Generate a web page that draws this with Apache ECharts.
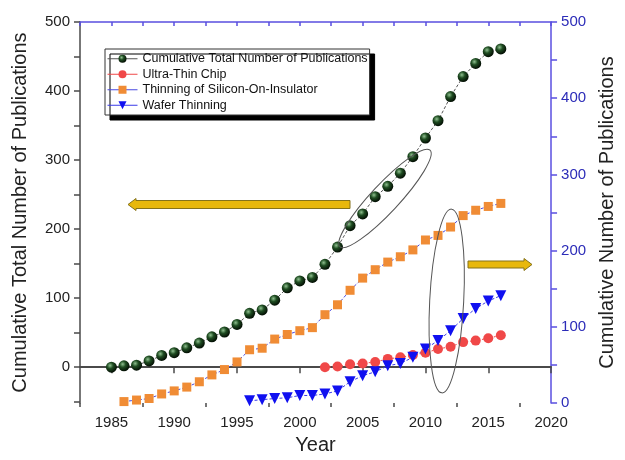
<!DOCTYPE html>
<html>
<head>
<meta charset="utf-8">
<script src="https://cdn.jsdelivr.net/npm/echarts@6/dist/echarts.min.js"></script>
<style>
  html, body { margin: 0; padding: 0; background: #fff; }
  #chart { width: 625px; height: 460px; }
</style>
</head>
<body>
<div id="chart"></div>
<script>
// Publication counts per year
const totalYears = [1985,1986,1987,1988,1989,1990,1991,1992,1993,1994,1995,1996,1997,1998,1999,2000,2001,2002,2003,2004,2005,2006,2007,2008,2009,2010,2011,2012,2013,2014,2015,2016];
const totalCounts = [0,2,3,9,17,21,28,35,44,51,62,78,83,97,115,125,130,149,174,205,222,247,262,281,305,332,357,392,421,440,457,461];

const chipYears = [2002,2003,2004,2005,2006,2007,2008,2009,2010,2011,2012,2013,2014,2015,2016];
const chipCounts = [47,48,51,52,54,58,60,63,66,71,74,80,82,85,89];

const soiYears = [1986,1987,1988,1989,1990,1991,1992,1993,1994,1995,1996,1997,1998,1999,2000,2001,2002,2003,2004,2005,2006,2007,2008,2009,2010,2011,2012,2013,2014,2015,2016];
const soiCounts = [2,4,6,12,16,21,28,37,44,54,70,72,84,90,95,99,116,129,148,164,175,185,192,201,214,220,231,246,253,258,262];

const waferYears = [1996,1997,1998,1999,2000,2001,2002,2003,2004,2005,2006,2007,2008,2009,2010,2011,2012,2013,2014,2015,2016];
const waferCounts = [3,4.5,6,7,10,10,12,16,28,36,41,49,52,60,71,82,95,111,124,134,141];

// Axis ticks and labels
const xLabels = [1985,1990,1995,2000,2005,2010,2015,2020];
const xMinorTicks = [1982.5,1987.5,1992.5,1997.5,2002.5,2007.5,2012.5,2017.5];
const leftLabels = [0,100,200,300,400,500];
const leftTicks = [-50,0,50,100,150,200,250,300,350,400,450,500];
const rightLabels = [0,100,200,300,400,500];
const rightTicks = [0,50,100,150,200,250,300,350,400,450,500];

const pairs = (xs, ys) => xs.map((x, i) => [x, ys[i]]);

const FONT = 'Liberation Sans, Arial, sans-serif';
const AXIS_DARK = '#4a4a4a';
const AXIS_BLUE = '#5a4fe0';
const LABEL_BLUE = '#2c2cb8';

const sphere = {
  type: 'radial', x: 0.38, y: 0.35, r: 0.62,
  colorStops: [
    { offset: 0, color: '#8fc08f' },
    { offset: 0.45, color: '#1f4d22' },
    { offset: 1, color: '#051205' }
  ]
};

const chart = echarts.init(document.getElementById('chart'), null, { renderer: 'canvas' });

chart.setOption({
  animation: false,
  backgroundColor: '#ffffff',
  textStyle: { fontFamily: FONT },
  grid: { left: 80, right: 65, top: 22, bottom: 51, containLabel: false },
  legend: {
    orient: 'vertical',
    left: 105, top: 49,
    padding: [2, 2, 2, 2],
    itemWidth: 30,
    itemHeight: 10,
    itemGap: 0,
    backgroundColor: '#ffffff',
    borderColor: '#333',
    borderWidth: 1,
    borderRadius: 0,
    shadowColor: '#000',
    shadowBlur: 0,
    shadowOffsetX: 5,
    shadowOffsetY: 5,
    lineStyle: { type: 'solid', width: 1 },
    textStyle: { fontFamily: FONT, fontSize: 12.5, color: '#111', lineHeight: 15.5 },
    data: ['Cumulative Total Number of Publications', 'Ultra-Thin Chip', 'Thinning of Silicon-On-Insulator', 'Wafer Thinning']
  },
  xAxis: [
    {
      type: 'value', position: 'bottom', min: 1982.5, max: 2020,
      name: 'Year', nameLocation: 'middle', nameGap: 31,
      nameTextStyle: { fontFamily: FONT, fontSize: 20, color: '#222' },
      axisLine: { show: true, lineStyle: { color: AXIS_DARK, width: 2 } },
      axisTick: { show: true, inside: false, length: 6, customValues: xLabels, lineStyle: { color: AXIS_DARK, width: 1.5 } },
      axisLabel: { customValues: xLabels, formatter: v => String(v), margin: 12, fontFamily: FONT, fontSize: 15, color: '#222' },
      splitLine: { show: false }
    },
    {
      type: 'value', position: 'bottom', min: 1982.5, max: 2020,
      axisLine: { show: false },
      axisTick: { show: true, inside: false, length: 4, customValues: xMinorTicks, lineStyle: { color: AXIS_DARK, width: 1.5 } },
      axisLabel: { show: false },
      splitLine: { show: false }
    },
    {
      type: 'value', position: 'top', min: 1982.5, max: 2020,
      axisLine: { show: true, lineStyle: { color: AXIS_BLUE, width: 1.5 } },
      axisTick: { show: true, inside: true, length: 4, customValues: xLabels.concat(xMinorTicks), lineStyle: { color: AXIS_BLUE, width: 1.5 } },
      axisLabel: { show: false },
      splitLine: { show: false }
    }
  ],
  yAxis: [
    {
      type: 'value', position: 'left', min: -52, max: 500,
      name: 'Cumulative Total Number of Publications', nameLocation: 'middle', nameGap: 50,
      nameTextStyle: { fontFamily: FONT, fontSize: 20, color: '#222' },
      axisLine: { show: true, lineStyle: { color: AXIS_DARK, width: 1.5 } },
      axisTick: { show: true, inside: false, length: 6, customValues: leftTicks, lineStyle: { color: AXIS_DARK, width: 1.5 } },
      axisLabel: { customValues: leftLabels, margin: 10, fontFamily: FONT, fontSize: 15, color: '#222' },
      splitLine: { show: false }
    },
    {
      type: 'value', position: 'right', min: 0, max: 500,
      name: 'Cumulative Number of Publications', nameLocation: 'middle', nameGap: 44,
      nameTextStyle: { fontFamily: FONT, fontSize: 20, color: '#222' },
      axisLine: { show: true, lineStyle: { color: AXIS_BLUE, width: 1.5 } },
      axisTick: { show: true, inside: false, length: 6, customValues: rightTicks, lineStyle: { color: AXIS_BLUE, width: 1.5 } },
      axisLabel: { customValues: rightLabels, margin: 10, fontFamily: FONT, fontSize: 15, color: LABEL_BLUE },
      splitLine: { show: false }
    }
  ],
  series: [
    {
      name: 'Cumulative Total Number of Publications', type: 'line',
      xAxisIndex: 0, yAxisIndex: 0,
      data: pairs(totalYears, totalCounts),
      symbol: 'circle', symbolSize: 11,
      itemStyle: { color: sphere, borderWidth: 0 },
      lineStyle: { color: '#555', width: 1, type: [3, 2] },
      z: 5
    },
    {
      name: 'Ultra-Thin Chip', type: 'line',
      xAxisIndex: 0, yAxisIndex: 1,
      data: pairs(chipYears, chipCounts),
      symbol: 'circle', symbolSize: 10,
      itemStyle: { color: '#f04848', borderWidth: 0 },
      lineStyle: { color: '#f04848', width: 1, type: [2, 2] },
      z: 4
    },
    {
      name: 'Thinning of Silicon-On-Insulator', type: 'line',
      xAxisIndex: 0, yAxisIndex: 1,
      data: pairs(soiYears, soiCounts),
      symbol: 'rect', symbolSize: 9,
      itemStyle: { color: '#f08c35', borderWidth: 0 },
      lineStyle: { color: '#4a4ae0', width: 1, type: [3, 2] },
      z: 4
    },
    {
      name: 'Wafer Thinning', type: 'line',
      xAxisIndex: 0, yAxisIndex: 1,
      data: pairs(waferYears, waferCounts),
      symbol: 'triangle', symbolRotate: 180, symbolSize: 11,
      itemStyle: { color: '#1010f0', borderWidth: 0 },
      lineStyle: { color: '#3a3ae8', width: 1, type: [3, 2] },
      z: 4
    }
  ],
  graphic: [
    // arrow pointing to the left axis
    {
      type: 'polygon', z: 100,
      shape: { points: [[128, 204.5], [136, 198.5], [136, 200.5], [350, 200.5], [350, 208.5], [136, 208.5], [136, 210.5]] },
      style: { fill: '#e8b80c', stroke: '#85731a', lineWidth: 1 }
    },
    // arrow pointing to the right axis
    {
      type: 'polygon', z: 100,
      shape: { points: [[468, 261], [524, 261], [524, 258.5], [532, 264.5], [524, 270.5], [524, 268], [468, 268]] },
      style: { fill: '#e8b80c', stroke: '#85731a', lineWidth: 1 }
    },
    // ellipse around the 2004–2009 totals
    {
      type: 'ellipse', z: 100,
      x: 385, y: 198.5, rotation: 47 * Math.PI / 180,
      shape: { cx: 0, cy: 0, rx: 66, ry: 14 },
      style: { fill: null, stroke: '#555', lineWidth: 1 }
    },
    // ellipse around 2011
    {
      type: 'ellipse', z: 100,
      x: 446.7, y: 301, rotation: -3 * Math.PI / 180,
      shape: { cx: 0, cy: 0, rx: 17, ry: 92 },
      style: { fill: null, stroke: '#555', lineWidth: 1 }
    }
  ]
});
</script>
</body>
</html>
